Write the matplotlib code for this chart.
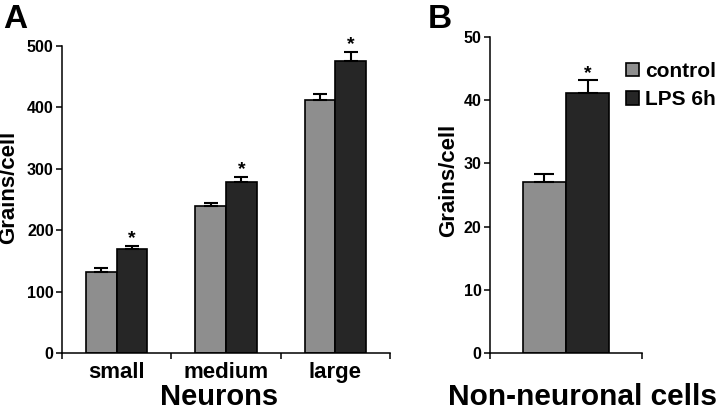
import numpy as np
import matplotlib
matplotlib.use("Agg")
import matplotlib.pyplot as plt
from matplotlib.patches import Patch

plt.rcParams['font.family'] = ['Liberation Sans', 'DejaVu Sans']
plt.rcParams['font.weight'] = 'bold'

# Panel A data (neurons)
sizes = ['small', 'medium', 'large']
ctrl_a = [132, 240, 412]
ctrl_a_err = [7, 4, 10]
lps_a = [169, 279, 475]
lps_a_err = [6, 8, 15]

# Panel B data (non-neuronal cells)
ctrl_b = [27.1]
ctrl_b_err = [1.2]
lps_b = [41.1]
lps_b_err = [2.0]

c_ctrl = '#8e8e8e'
c_lps = '#262626'
w = 0.28
lw = 1.1
H = 412.0

fig = plt.figure(figsize=(7.2, 4.12), dpi=100)
axA = fig.add_axes([62/720, 1-353.3/H, 328/720, 307.3/H])
axB = fig.add_axes([490/720, 1-353.3/H, 152/720, 316.7/H])

def style(ax):
    for s in ['top', 'right']:
        ax.spines[s].set_visible(False)
    for s in ['left', 'bottom']:
        ax.spines[s].set_linewidth(lw)
    ax.tick_params(axis='y', direction='out', length=4, width=lw, labelsize=11.5, pad=2)
    ax.tick_params(axis='x', which='major', direction='out', length=4, width=lw)
    for t in ax.get_yticklabels():
        t.set_fontweight('bold')

# Panel A
x = np.arange(len(sizes)) + 0.5
axA.bar(x - w/2, ctrl_a, w, color=c_ctrl, edgecolor='black', linewidth=1.2)
axA.bar(x + w/2, lps_a, w, color=c_lps, edgecolor='black', linewidth=1.2)
axA.errorbar(x - w/2, ctrl_a, yerr=[np.zeros(3), ctrl_a_err], fmt='none', ecolor='black',
             elinewidth=1.5, capsize=5, capthick=1.5)
axA.errorbar(x + w/2, lps_a, yerr=[np.zeros(3), lps_a_err], fmt='none', ecolor='black',
             elinewidth=1.5, capsize=5, capthick=1.5)
for xi, v, e in zip(x + w/2, lps_a, lps_a_err):
    axA.annotate('*', (xi, v + e), xytext=(0, -1), textcoords='offset points',
                 ha='center', va='bottom', fontsize=14, fontweight='bold')
axA.set_xlim(0, 3)
axA.set_ylim(0, 500)
axA.set_yticks([0, 100, 200, 300, 400, 500])
axA.set_xticks([0, 1, 2, 3])
axA.set_xticklabels([])
axA.set_xticks(x, minor=True)
axA.set_xticklabels(sizes, minor=True, fontsize=16, fontweight='bold')
axA.tick_params(axis='x', which='minor', length=0, pad=6)
style(axA)

# Panel B
xb = np.array([0.5])
axB.bar(xb - 0.142, ctrl_b, 0.284, color=c_ctrl, edgecolor='black', linewidth=1.2)
axB.bar(xb + 0.142, lps_b, 0.284, color=c_lps, edgecolor='black', linewidth=1.2)
axB.errorbar(xb - 0.142, ctrl_b, yerr=[[0], ctrl_b_err], fmt='none', ecolor='black',
             elinewidth=1.5, capsize=7, capthick=1.5)
axB.errorbar(xb + 0.142, lps_b, yerr=[[0], lps_b_err], fmt='none', ecolor='black',
             elinewidth=1.5, capsize=7, capthick=1.5)
axB.annotate('*', (xb[0] + 0.142, lps_b[0] + lps_b_err[0]), xytext=(0, -1),
             textcoords='offset points', ha='center', va='bottom', fontsize=14, fontweight='bold')
axB.set_xlim(0, 1)
axB.set_ylim(0, 50)
axB.set_yticks([0, 10, 20, 30, 40, 50])
axB.set_xticks([0, 1])
axB.set_xticklabels([])
style(axB)

# axis titles placed in figure pixels
fig.text(9/720, 1-187/H, 'Grains/cell', rotation=90, fontsize=16, fontweight='bold',
         ha='center', va='center')
fig.text(449/720, 1-180/H, 'Grains/cell', rotation=90, fontsize=16, fontweight='bold',
         ha='center', va='center')
fig.text(219/720, 1-405/H, 'Neurons', fontsize=21, fontweight='bold', ha='center', va='baseline')
fig.text(583/720, 1-405/H, 'Non-neuronal cells', fontsize=21.5, fontweight='bold',
         ha='center', va='baseline')

handles = [Patch(facecolor=c_ctrl, edgecolor='black', linewidth=1.2),
           Patch(facecolor=c_lps, edgecolor='black', linewidth=1.2)]
fig.legend(handles, ['control', 'LPS 6h'], loc='upper left', bbox_to_anchor=(626/720, 1-62/H),
           frameon=False, prop={'size': 15, 'weight': 'bold'}, handlelength=0.6,
           handleheight=0.6, handletextpad=0.3, labelspacing=0.45, borderpad=0, borderaxespad=0)

fig.text(3/720, 1-4/H, 'A', fontsize=24, fontweight='bold', ha='left', va='top')
fig.text(428/720, 1-4/H, 'B', fontsize=24, fontweight='bold', ha='left', va='top')

fig.savefig('out.png', dpi=100)
